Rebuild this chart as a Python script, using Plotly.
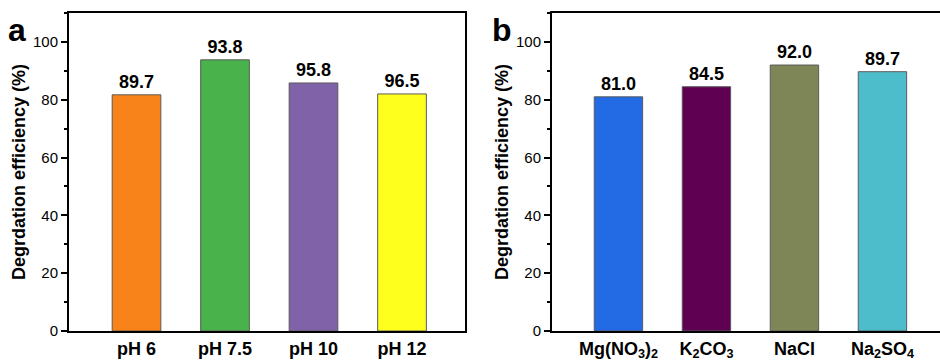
import plotly.graph_objects as go

# Panel a data
ph_categories = ["pH 6", "pH 7.5", "pH 10", "pH 12"]
ph_values = [81.7, 93.8, 85.8, 82.0]
ph_labels = ["89.7", "93.8", "95.8", "96.5"]
ph_colors = ["#F8831B", "#4AB24A", "#8062A9", "#FFFF1E"]

# Panel b data
salt_categories = ["Mg(NO3)2", "K2CO3", "NaCl", "Na2SO4"]
salt_ticktext = ["Mg(NO<sub>3</sub>)<sub>2</sub>", "K<sub>2</sub>CO<sub>3</sub>", "NaCl", "Na<sub>2</sub>SO<sub>4</sub>"]
salt_values = [81.0, 84.5, 92.0, 89.7]
salt_labels = ["81.0", "84.5", "92.0", "89.7"]
salt_colors = ["#236BE4", "#5F0052", "#7E8557", "#4DBDCC"]

y_title = "Degrdation efficiency (%)"
FONT = "Liberation Sans, Arial, sans-serif"

fig = go.Figure()
fig.add_trace(go.Bar(
    x=ph_categories, y=ph_values, text=ph_labels, textposition="outside",
    marker=dict(color=ph_colors, line=dict(color="#5a5a5a", width=1)),
    width=0.55, cliponaxis=False,
    textfont=dict(family=FONT, size=18, color="black"),
    xaxis="x", yaxis="y", showlegend=False,
))
fig.add_trace(go.Bar(
    x=salt_categories, y=salt_values, text=salt_labels, textposition="outside",
    marker=dict(color=salt_colors, line=dict(color="#5a5a5a", width=1)),
    width=0.55, cliponaxis=False,
    textfont=dict(family=FONT, size=18, color="black"),
    xaxis="x2", yaxis="y2", showlegend=False,
))

W, H = 940, 360
axis_common = dict(showline=True, linecolor="black", linewidth=2)
yaxis_common = dict(
    range=[0, 110], tickmode="array", tickvals=[0, 20, 40, 60, 80, 100],
    ticks="outside", ticklen=6, tickwidth=2, tickcolor="black",
    minor=dict(tickvals=[10, 30, 50, 70, 90, 110], ticks="outside", ticklen=3, tickwidth=1.5, tickcolor="black"),
    showgrid=False, zeroline=False,
    tickfont=dict(family=FONT, size=15, color="black"),
    title=dict(text=f"<b>{y_title}</b>", font=dict(family=FONT, size=18, color="black"), standoff=3),
    **axis_common,
)

fig.update_layout(
    width=W, height=H,
    margin=dict(l=0, r=0, t=13, b=29),
    paper_bgcolor="white", plot_bgcolor="white",
    bargap=0.45,
    xaxis=dict(domain=[69 / W, 465 / W], range=[-0.763, 3.712], anchor="y",
               mirror=True, ticks="", showgrid=False,
               tickfont=dict(family=FONT, size=18, color="black"),
               tickvals=ph_categories, ticktext=[f"<b>{t}</b>" for t in ph_categories],
               **axis_common),
    yaxis=dict(domain=[0, 1], anchor="x", mirror=True, **yaxis_common),
    xaxis2=dict(domain=[552 / W, 1.0], range=[-0.755, 3.654], anchor="y2",
                mirror=True, ticks="", showgrid=False,
                tickfont=dict(family=FONT, size=18, color="black"),
                tickvals=salt_categories, ticktext=[f"<b>{t}</b>" for t in salt_ticktext],
                **axis_common),
    yaxis2=dict(domain=[0, 1], anchor="x2", mirror=False, **yaxis_common),
    annotations=[
        dict(text="<b>a</b>", x=6 / W, y=1 - 42 / H, xref="paper", yref="paper",
             xanchor="left", yanchor="bottom", showarrow=False,
             font=dict(family=FONT, size=32, color="black")),
        dict(text="<b>b</b>", x=490 / W, y=1 - 42 / H, xref="paper", yref="paper",
             xanchor="left", yanchor="bottom", showarrow=False,
             font=dict(family=FONT, size=32, color="black")),
    ],
)
fig.update_yaxes(tickprefix="<b>", ticksuffix="</b>")
fig.update_traces(texttemplate="<b>%{text}</b>")

fig.write_html("out.html", config={"displayModeBar": False},
               post_script="document.body.style.margin='0';document.body.style.overflow='hidden';")
